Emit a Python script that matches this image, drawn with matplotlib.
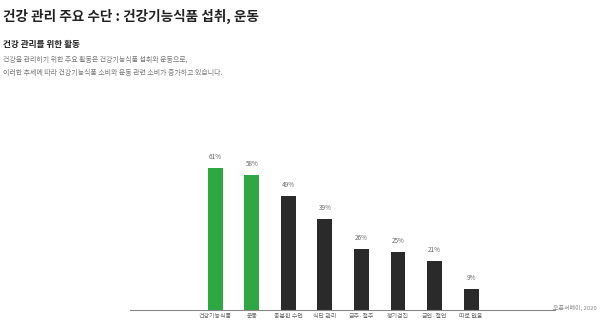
import matplotlib
matplotlib.use("Agg")
import matplotlib.pyplot as plt

plt.rcParams['font.family'] = ['Noto Sans CJK KR', 'DejaVu Sans']

categories = ['건강기능식품', '운동', '충분한 수면', '식단 관리', '금주·절주', '정기검진', '금연·절연', '따로 없음']
values = [61, 58, 49, 39, 26, 25, 21, 9]
colors = ['#2ea843', '#2ea843'] + ['#2a2a2a'] * 6

W, H = 600, 322
fig = plt.figure(figsize=(6, 3.22), dpi=100)

# axes placement in pixels
left_px, right_px = 130, 555
bottom_px, top_px = 310, 77
ax = fig.add_axes([left_px / W, 1 - bottom_px / H, (right_px - left_px) / W, (bottom_px - top_px) / H])

x = list(range(len(categories)))
ax.bar(x, values, width=0.41, color=colors, zorder=2)
for xi, v in zip(x, values):
    ax.text(xi, v + 3, f'{v}%', ha='center', va='bottom', fontsize=4.6, color='#666666')

ax.set_xlim(-2.34, 9.30)
ax.set_ylim(0, 100)
ax.set_xticks(x)
ax.set_xticklabels(categories, fontsize=4.3, color='#666666')
ax.tick_params(axis='x', length=0, pad=3)
ax.set_yticks([])
for s in ['top', 'right', 'left']:
    ax.spines[s].set_visible(False)
ax.spines['bottom'].set_color('#888888')
ax.spines['bottom'].set_linewidth(0.8)

fig.text(3 / W, 1 - 16 / H, '건강 관리 주요 수단 : 건강기능식품 섭취, 운동', fontsize=9.8, fontweight='black',
         color='#222222', va='center', ha='left')
fig.text(3 / W, 1 - 45 / H, '건강 관리를 위한 활동', fontsize=6.2, fontweight='bold',
         color='#222222', va='center', ha='left')
fig.text(3 / W, 1 - 60 / H, '건강을 관리하기 위한 주요 활동은 건강기능식품 섭취와 운동으로,', fontsize=5,
         color='#777777', va='center', ha='left')
fig.text(3 / W, 1 - 73 / H, '이러한 추세에 따라 건강기능식품 소비와 운동 관련 소비가 증가하고 있습니다.', fontsize=5,
         color='#777777', va='center', ha='left')
fig.text(597 / W, 1 - 308 / H, '오픈서베이, 2020', fontsize=4.3, color='#888888', va='center', ha='right')

fig.savefig('out.png', dpi=100, facecolor='white')
